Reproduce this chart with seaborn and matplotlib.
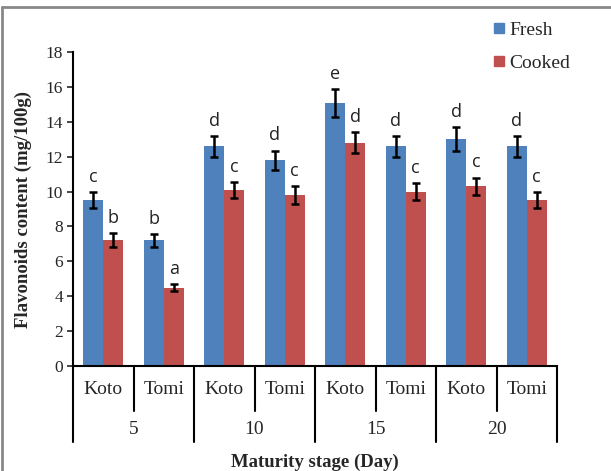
import matplotlib
matplotlib.use("Agg")
import matplotlib.pyplot as plt
from matplotlib.lines import Line2D
import seaborn as sns
import pandas as pd

# 데이터
days = ["5", "10", "15", "20"]
cultivars = ["Koto", "Tomi"]
fresh = [9.5, 7.2, 12.6, 11.8, 15.1, 12.6, 13.0, 12.6]
fresh_err = [0.45, 0.35, 0.6, 0.55, 0.8, 0.6, 0.7, 0.6]
cooked = [7.2, 4.5, 10.1, 9.8, 12.8, 10.0, 10.3, 9.5]
cooked_err = [0.4, 0.2, 0.45, 0.5, 0.6, 0.5, 0.5, 0.45]
fresh_letters = ["c", "b", "d", "d", "e", "d", "d", "d"]
cooked_letters = ["b", "a", "c", "c", "d", "c", "c", "c"]
yticks = list(range(0, 19, 2))

samples = [f"{c} {d}" for d in days for c in cultivars]
df = pd.DataFrame({
    "sample": samples * 2,
    "value": fresh + cooked,
    "err": fresh_err + cooked_err,
    "letter": fresh_letters + cooked_letters,
    "type": ["Fresh"] * len(samples) + ["Cooked"] * len(samples),
})

sns.set_style("white")
plt.rcParams["font.family"] = ["Liberation Serif", "DejaVu Serif"]

fig = plt.figure(figsize=(6.11, 4.71), dpi=100)
ax = fig.add_axes([73 / 611, 1 - 366 / 471, (557 - 73) / 611, (366 - 52) / 471])

colors = {"Fresh": "#4F81BD", "Cooked": "#C0504D"}
sns.barplot(data=df, x="sample", y="value", hue="type", order=samples,
            hue_order=["Fresh", "Cooked"], palette=colors, width=0.66,
            gap=0, errorbar=None, saturation=1, linewidth=0, ax=ax, legend=False)

# 오차막대 및 유의성 문자
for kind, shift in [("Fresh", -0.165), ("Cooked", 0.165)]:
    sub = df[df["type"] == kind].reset_index(drop=True)
    xs = [i + shift for i in range(len(sub))]
    ax.errorbar(xs, sub["value"], yerr=sub["err"], fmt="none", ecolor="black",
                elinewidth=1.8, capsize=3, capthick=1.8)
    for x, v, e, t in zip(xs, sub["value"], sub["err"], sub["letter"]):
        ax.text(x, v + e + 0.35, t, ha="center", va="bottom", fontsize=13,
                family=["Open Sans", "DejaVu Sans"], color="#222222")

ax.set_xlim(-0.5, len(samples) - 0.5)
ax.set_ylim(0, 18)
ax.set_yticks(yticks)
ax.tick_params(axis="y", direction="out", length=4, width=1.2, labelsize=12.5,
               left=True, pad=3)
ax.set_xticks([])
ax.set_xlabel("")
ax.set_ylabel("Flavonoids content (mg/100g)", fontsize=13.5, fontweight="bold",
              labelpad=10)
for side in ["top", "right"]:
    ax.spines[side].set_visible(False)
for side in ["left", "bottom"]:
    ax.spines[side].set_linewidth(1.5)
    ax.spines[side].set_color("black")

# 그룹 구분선과 라벨
trans = ax.get_xaxis_transform()
for i in range(len(samples) + 1):
    b = i - 0.5
    bottom = -76 / 314 if i % 2 == 0 else -45 / 314
    ax.add_line(Line2D([b, b], [0, bottom], transform=trans, color="black",
                       lw=1.5, clip_on=False))
for i, s in enumerate(samples):
    ax.text(i, -24 / 314, s.split()[0], transform=trans, ha="center",
            va="center", fontsize=14)
for j, d in enumerate(days):
    ax.text(2 * j + 0.5, -64 / 314, d, transform=trans, ha="center",
            va="center", fontsize=14)
ax.text(0.5, -96 / 314, "Maturity stage (Day)", transform=ax.transAxes,
        ha="center", va="center", fontsize=13.5, fontweight="bold")

# 범례
handles = [Line2D([], [], marker="s", ls="none", color=colors[k], markersize=7)
           for k in ["Fresh", "Cooked"]]
fig.legend(handles, ["Fresh", "Cooked"], loc="upper left",
           bbox_to_anchor=(476 / 611, 1 - 4 / 471), frameon=False,
           fontsize=14, handlelength=0.6, handletextpad=0.2, labelspacing=0.8)

# 바깥 회색 테두리
fig.add_artist(Line2D([0.003, 0.003], [0, 1 - 7 / 471], color="#888888", lw=2))
fig.add_artist(Line2D([0.003, 1], [1 - 7 / 471, 1 - 7 / 471], color="#888888", lw=2))

fig.savefig("out.png", dpi=100)
